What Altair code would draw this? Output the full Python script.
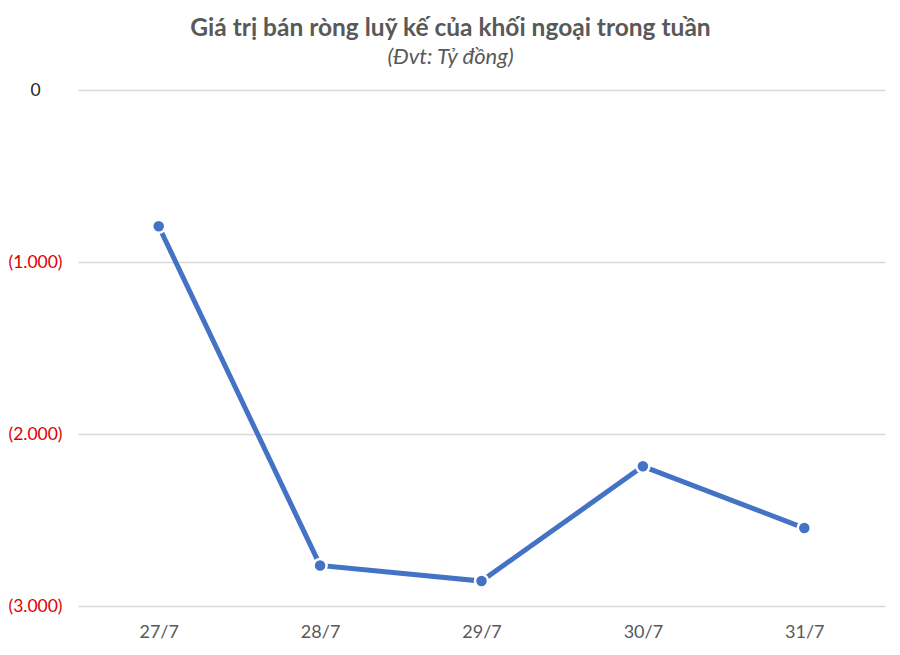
import altair as alt
import pandas as pd

dates = ["27/7", "28/7", "29/7", "30/7", "31/7"]
values = [-792, -2764, -2855, -2188, -2547]
y_ticks = [0, -1000, -2000, -3000]

df = pd.DataFrame({"date": dates, "value": values})

FONT = "Lato"

label_expr = ("datum.value == 0 ? '0' : '(' + replace(format(abs(datum.value), ','), ',', '.') + ')'")

x = alt.X("date:N", sort=dates, title=None,
          scale=alt.Scale(type="point", padding=0.5),
          axis=alt.Axis(labelAngle=0, labelFontSize=18, labelColor="#595959",
                        labelFont=FONT, ticks=False, domain=False, grid=False,
                        labelPadding=17))
y = alt.Y("value:Q", title=None,
          scale=alt.Scale(domain=[-3000, 0], nice=False, zero=False),
          axis=alt.Axis(values=y_ticks, labelExpr=label_expr, labelFontSize=17.5,
                        labelFont=FONT, labelAlign="center", labelPadding=43,
                        labelColor={"condition": {"test": "datum.value == 0", "value": "#262626"}, "value": "#e00000"},
                        ticks=False, domain=False, grid=True, gridColor="#d9d9d9",
                        gridWidth=1.5))

base = alt.Chart(df)
line = base.mark_line(color="#4472C4", strokeWidth=5).encode(x=x, y=y)
pts = base.mark_point(filled=True, color="#4472C4", size=170, opacity=1,
                      stroke="white", strokeWidth=2.5, strokeOpacity=1).encode(x=x, y=y)

chart = (line + pts).properties(
    width=807, height=516,
    background="white",
    autosize=alt.AutoSizeParams(type="none"),
    padding={"left": 70, "top": 82, "right": 7, "bottom": 41},
    title=alt.TitleParams(
        text="Giá trị bán ròng luỹ kế của khối ngoại trong tuần",
        subtitle="(Đvt: Tỷ đồng)",
        anchor="middle", dx=-31, offset=12,
        font=FONT, fontSize=24.5, fontWeight="bold", color="#595959",
        subtitleFont=FONT, subtitleFontSize=22, subtitleFontStyle="italic",
        subtitleColor="#595959", subtitlePadding=6,
    ),
).configure_view(strokeWidth=0, stroke="transparent")

chart.save("out.html", embed_options={"renderer": "svg", "actions": False})
